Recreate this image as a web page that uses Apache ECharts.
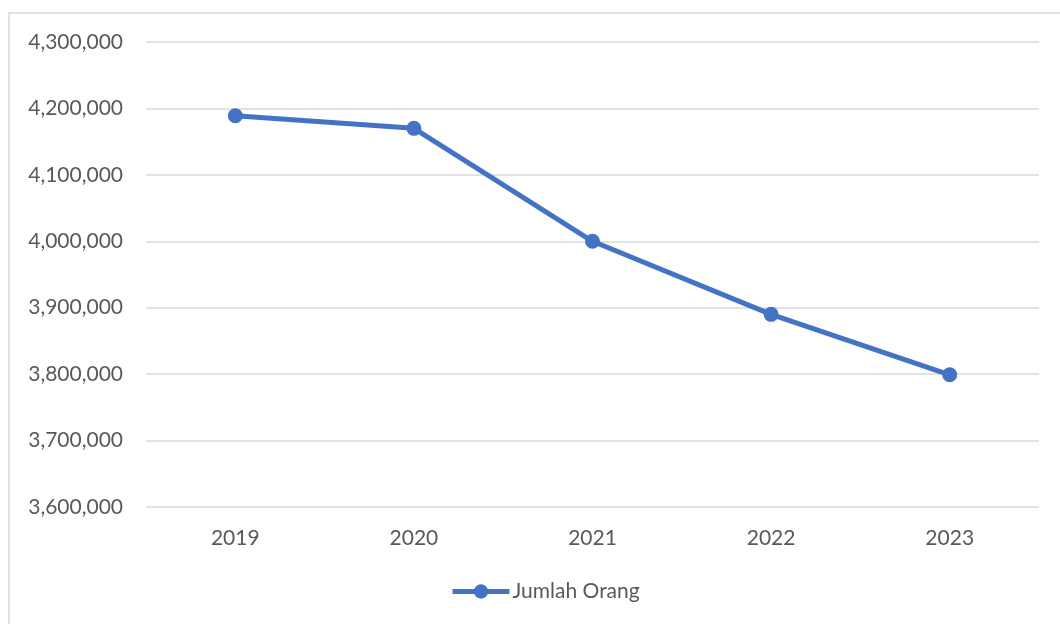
<!DOCTYPE html>
<html>
<head>
<meta charset="utf-8">
<script src="https://cdn.jsdelivr.net/npm/echarts@6/dist/echarts.min.js"></script>
<style>
  html, body { margin: 0; padding: 0; background: #fff; }
  #chart { width: 1060px; height: 624px; }
</style>
</head>
<body>
<div id="chart"></div>
<script>
const years = ["2019", "2020", "2021", "2022", "2023"];
const jumlahOrang = [4189000, 4170000, 4000000, 3890000, 3799000];
const seriesName = "Jumlah Orang";

const myChart = echarts.init(document.getElementById("chart"));
const textColor = "#595959";
const gridColor = "#d9d9d9";
const blue = "#4472c4";

const option = {
  animation: false,
  textStyle: { fontFamily: "Lato" },
  grid: { left: 146, right: 21, top: 42, bottom: 117 },
  graphic: [
    {
      // chart area border (partly cut off at right/bottom)
      type: "rect",
      shape: { x: 9, y: 13, width: 1100, height: 700 },
      style: { fill: null, stroke: gridColor, lineWidth: 1.5 },
      silent: true,
    },
  ],
  legend: {
    left: 445,
    top: 576,
    itemWidth: 57,
    itemHeight: 18,
    itemGap: 3,
    lineStyle: { width: 5, color: blue },
    itemStyle: { color: blue },
    textStyle: { color: textColor, fontSize: 21, fontFamily: "Lato", padding: [0, 0, 0, -2] },
    data: [seriesName],
  },
  xAxis: {
    type: "category",
    data: years,
    axisLine: { show: false },
    axisTick: { show: false },
    axisLabel: { color: textColor, fontSize: 21, margin: 21 },
  },
  yAxis: {
    type: "value",
    min: 3600000,
    max: 4300000,
    interval: 100000,
    axisLine: { show: false },
    axisTick: { show: false },
    axisLabel: {
      color: textColor,
      fontSize: 21,
      margin: 23,
      formatter: (v) => v.toLocaleString("en-US"),
    },
    splitLine: { lineStyle: { color: gridColor, width: 1.5 } },
  },
  series: [
    {
      name: seriesName,
      type: "line",
      data: jumlahOrang,
      symbol: "circle",
      symbolSize: 15,
      itemStyle: { color: blue },
      lineStyle: { color: blue, width: 5 },
    },
  ],
};

myChart.setOption(option);
</script>
</body>
</html>
